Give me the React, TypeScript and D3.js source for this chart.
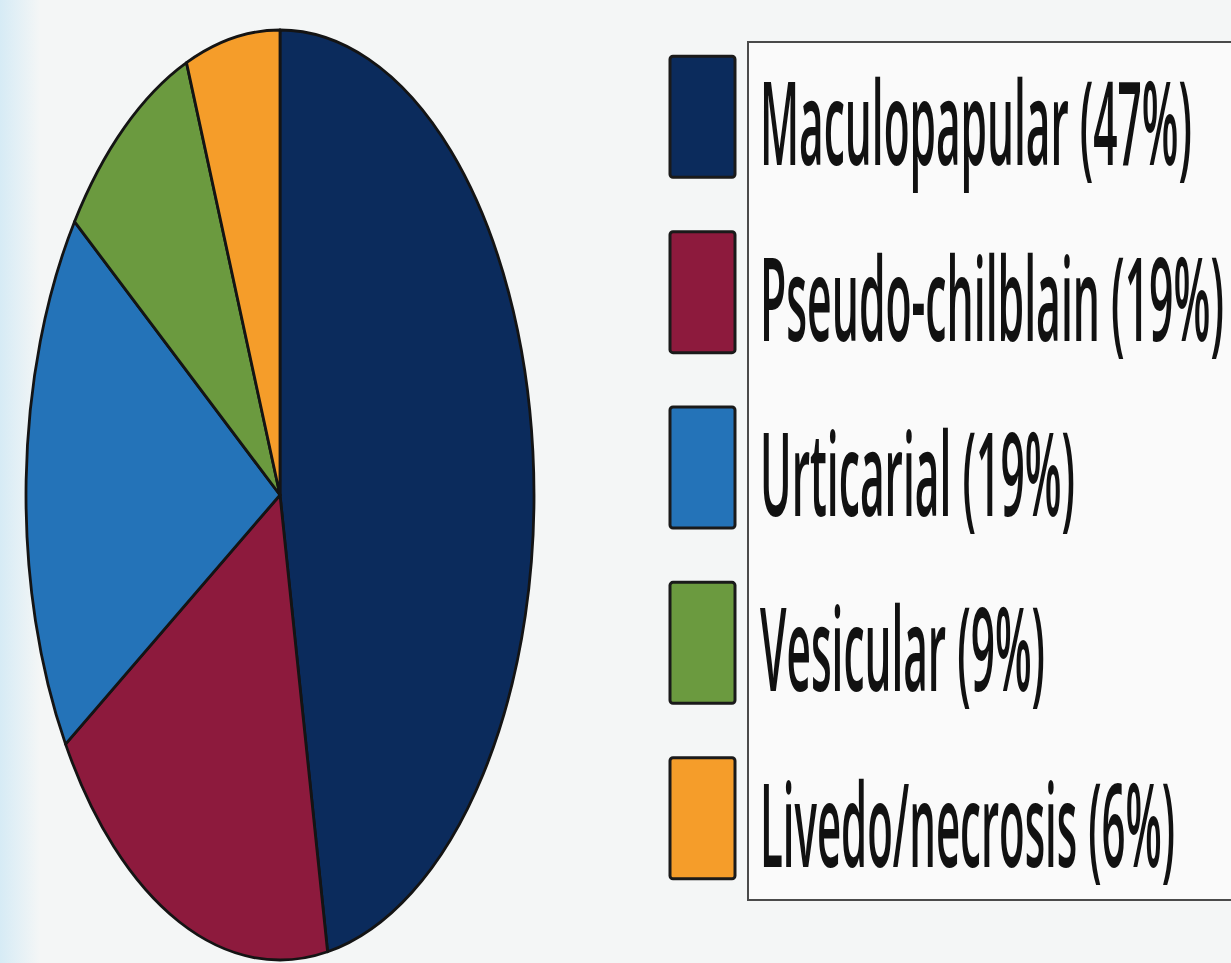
import React, { useEffect, useRef, useState } from "react";
import * as d3 from "d3";

const categories = ["Maculopapular", "Pseudo-chilblain", "Urticarial", "Vesicular", "Livedo/necrosis"];
const percents = [47, 19, 19, 9, 6];
const colors = ["#0b2b5c", "#8d1a3d", "#2473b8", "#6b9a3f", "#f59d2a"];
// widths the legend labels take in the picture
const labelWidths = [432, 464, 315, 285, 415];

const W = 1231;
const H = 963;

export default function App() {
  const cx = 280;
  const cy = 495;
  const rx = 254;
  const ry = 465;

  const textRefs = useRef<(SVGTextElement | null)[]>([]);
  const [scales, setScales] = useState<number[]>(categories.map(() => 0.4));

  useEffect(() => {
    // squeeze each label horizontally to the width it has in the picture
    const s = textRefs.current.map((t, i) => {
      const w = t ? t.getComputedTextLength() : 0;
      return w > 0 ? labelWidths[i] / w : 0.4;
    });
    setScales(s);
  }, []);

  const pie = d3.pie<number>().sort(null).value((d) => d);
  const arcs = pie(percents);
  const arc = d3.arc<d3.PieArcDatum<number>>().innerRadius(0).outerRadius(ry);

  const legendY = d3.scaleBand<string>().domain(categories).range([30, 905]).paddingInner(0.31).paddingOuter(0.15);

  return (
    <svg width={W} height={H} style={{ position: "absolute", left: 0, top: 0 }}>
      <defs>
        <linearGradient id="bgEdge" x1="0" x2="1" y1="0" y2="0">
          <stop offset="0" stopColor="#d6ebf5" />
          <stop offset="1" stopColor="#f4f6f6" />
        </linearGradient>
      </defs>
      <rect width={W} height={H} fill="#f4f6f6" />
      <rect width={40} height={H} fill="url(#bgEdge)" />

      <g transform={`translate(${cx},${cy}) scale(${rx / ry},1)`}>
        {arcs.map((a, i) => (
          <path
            key={i}
            d={arc(a) || ""}
            fill={colors[i]}
            stroke="#141414"
            strokeWidth={2.8}
            strokeLinejoin="round"
            vectorEffect="non-scaling-stroke"
          />
        ))}
      </g>

      <rect x={748} y={42} width={520} height={858} fill="#fafafa" stroke="#4a4a4a" strokeWidth={2} />

      {categories.map((c, i) => {
        const y0 = legendY(c)!;
        const bh = legendY.bandwidth();
        return (
          <g key={c}>
            <rect x={670} y={y0} width={65} height={bh} rx={3} fill={colors[i]} stroke="#1a1a1a" strokeWidth={3} />
            <text
              ref={(el) => {
                textRefs.current[i] = el;
              }}
              transform={`translate(760,${y0 + bh * 0.9}) scale(${scales[i]},1)`}
              fontFamily="Open Sans, Noto Sans, sans-serif"
              fontWeight={600}
              fontSize={116}
              fill="#111"
            >
              {`${c} (${percents[i]}%)`}
            </text>
          </g>
        );
      })}
    </svg>
  );
}
